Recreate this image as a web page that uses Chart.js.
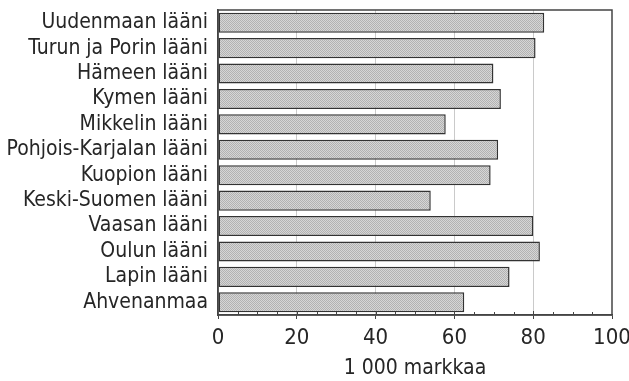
<!DOCTYPE html>
<html>
<head>
<meta charset="utf-8">
<script src="https://cdn.jsdelivr.net/npm/chart.js@4"></script>
<style>
  html, body { margin: 0; padding: 0; background: #fff; }
  canvas { display: block; }
</style>
</head>
<body>
<canvas id="chart" width="629" height="381"></canvas>
<script>
// Läänit ja arvot (1 000 markkaa)
const regions = [
    'Uudenmaan lääni',
    'Turun ja Porin lääni',
    'Hämeen lääni',
    'Kymen lääni',
    'Mikkelin lääni',
    'Pohjois-Karjalan lääni',
    'Kuopion lääni',
    'Keski-Suomen lääni',
    'Vaasan lääni',
    'Oulun lääni',
    'Lapin lääni',
    'Ahvenanmaa',
];
const values = [82.8, 80.6, 69.9, 71.8, 57.8, 71.1, 69.2, 54.0, 80.0, 81.7, 74.0, 62.5];
const xTicks = [0, 20, 40, 60, 80, 100];
const axisTitle = '1 000 markkaa';

const FONT = "'Liberation Sans Narrow', 'DejaVu Sans Condensed', sans-serif";
const INK = '#262626';

// dotted raster fill like the printed original
function dotPattern() {
    const c = document.createElement('canvas');
    c.width = 2;
    c.height = 2;
    const g = c.getContext('2d');
    g.fillStyle = '#d6d6d6';
    g.fillRect(0, 0, 2, 2);
    g.fillStyle = '#b2b2b2';
    g.fillRect(0, 0, 1, 1);
    g.fillRect(1, 1, 1, 1);
    return g.createPattern(c, 'repeat');
}

// frame + minor ticks on the bottom axis
const framePlugin = {
    id: 'frame',
    afterDraw(chart) {
        const { ctx, chartArea: a, scales } = chart;
        ctx.save();
        ctx.strokeStyle = '#444';
        ctx.lineWidth = 1.5;
        ctx.strokeRect(a.left, a.top, a.right - a.left, a.bottom - a.top);
        ctx.lineWidth = 1;
        for (let v = 5; v < 100; v += 5) {
            const x = Math.round(scales.x.getPixelForValue(v)) + 0.5;
            const len = v % 20 === 0 ? 4 : 3;
            ctx.beginPath();
            ctx.moveTo(x, a.bottom);
            ctx.lineTo(x, a.bottom - len);
            ctx.stroke();
        }
        ctx.restore();
    },
};

new Chart(document.getElementById('chart'), {
    type: 'bar',
    data: {
        labels: regions,
        datasets: [{
            data: values,
            backgroundColor: dotPattern(),
            borderColor: '#333',
            borderWidth: 1.5,
            borderSkipped: false,
            barPercentage: 0.79,
            categoryPercentage: 1,
        }],
    },
    plugins: [framePlugin],
    options: {
        indexAxis: 'y',
        responsive: false,
        animation: false,
        layout: {
            padding: { top: 10, right: 17, left: 0, bottom: 0 },
        },
        plugins: {
            legend: { display: false },
            tooltip: { enabled: false },
        },
        scales: {
            x: {
                min: 0,
                max: 100,
                afterBuildTicks(scale) {
                    scale.ticks = xTicks.map((v) => ({ value: v }));
                },
                afterFit(scale) {
                    scale.height = 66;
                    scale.paddingLeft = 0;
                    scale.paddingRight = 0;
                },
                grid: {
                    color: (c) => (c.tick && (c.tick.value === 0 || c.tick.value === 100) ? 'rgba(0,0,0,0)' : '#cacaca'),
                    lineWidth: 1,
                    borderDash: [3, 6],
                    tickColor: '#444',
                    tickLength: 4,
                    tickBorderDash: [],
                },
                border: { display: true, color: '#444', width: 1.5 },
                ticks: {
                    color: INK,
                    padding: 6,
                    font: { family: FONT, size: 22 },
                },
                title: {
                    display: true,
                    text: axisTitle,
                    color: INK,
                    padding: { top: 6, bottom: 0 },
                    font: { family: FONT, size: 21 },
                },
            },
            y: {
                afterFit(scale) {
                    scale.width = 218;
                    scale.paddingTop = 0;
                    scale.paddingBottom = 0;
                },
                grid: { display: false, drawTicks: false },
                border: { display: true, color: '#444', width: 1.5 },
                ticks: {
                    color: INK,
                    padding: 10,
                    autoSkip: false,
                    font: { family: FONT, size: 21 },
                },
            },
        },
    },
});
</script>
</body>
</html>
